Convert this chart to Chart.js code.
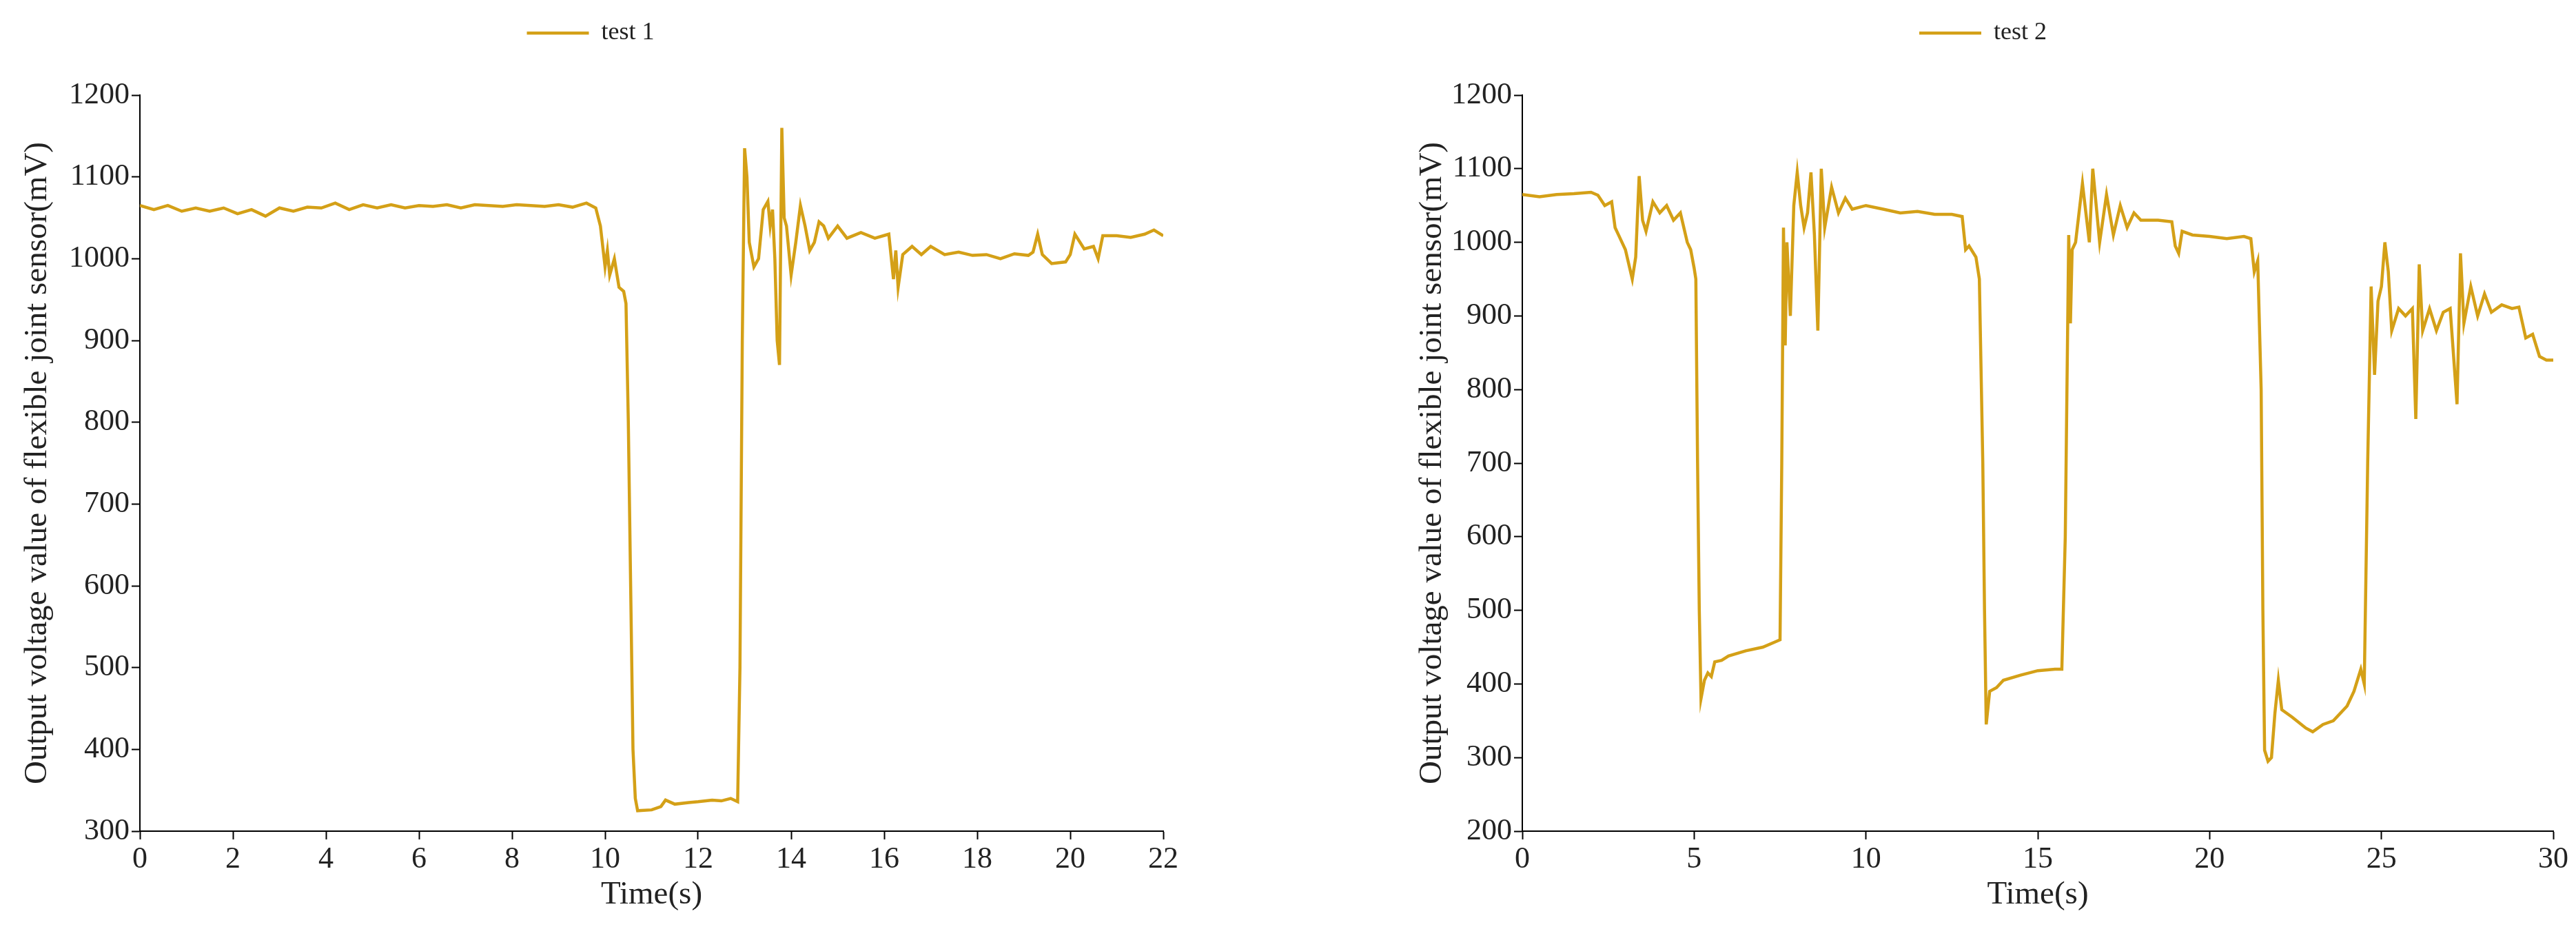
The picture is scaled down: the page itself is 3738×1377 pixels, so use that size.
<!DOCTYPE html>
<html>
<head>
<meta charset="utf-8">
<script src="https://cdn.jsdelivr.net/npm/chart.js@4.4.1/dist/chart.umd.min.js"></script>
<style>
  body { margin: 0; background: #fff; }
  .wrap { position: absolute; top: 0; height: 1377px; }
  #w1 { left: 0; width: 1850px; }
  #w2 { left: 1850px; width: 1888px; }
</style>
</head>
<body>
<div class="wrap" id="w1"><canvas id="c1"></canvas></div>
<div class="wrap" id="w2"><canvas id="c2"></canvas></div>
<script>
// test 1
const t1 = [0,0.3,0.6,0.9,1.2,1.5,1.8,2.1,2.4,2.7,3.0,3.3,3.6,3.9,4.2,4.5,4.8,5.1,5.4,5.7,6.0,6.3,6.6,6.9,7.2,7.5,7.8,8.1,8.4,8.7,9.0,9.3,9.6,9.8,9.9,10.0,10.05,10.1,10.2,10.3,10.4,10.45,10.5,10.55,10.6,10.65,10.7,11.0,11.2,11.3,11.5,11.8,12.0,12.3,12.5,12.7,12.85,12.9,12.95,13.0,13.05,13.1,13.2,13.3,13.4,13.5,13.55,13.6,13.65,13.7,13.75,13.8,13.85,13.9,14.0,14.1,14.2,14.3,14.4,14.5,14.6,14.7,14.8,15.0,15.2,15.5,15.8,16.1,16.2,16.25,16.3,16.4,16.6,16.8,17.0,17.3,17.6,17.9,18.2,18.5,18.8,19.1,19.2,19.3,19.4,19.6,19.9,20.0,20.1,20.3,20.5,20.6,20.7,21.0,21.3,21.6,21.8,22.0];
const v1 = [1065,1060,1065,1058,1062,1058,1062,1055,1060,1052,1062,1058,1063,1062,1068,1060,1066,1062,1066,1062,1065,1064,1066,1062,1066,1065,1064,1066,1065,1064,1066,1063,1068,1062,1040,990,1010,980,1000,965,960,945,800,600,400,340,325,326,330,338,333,335,336,338,337,340,336,500,900,1135,1100,1020,990,1000,1060,1070,1040,1060,1000,900,870,1160,1050,1040,980,1020,1065,1040,1010,1020,1045,1040,1025,1040,1025,1032,1025,1030,975,1010,965,1005,1015,1005,1015,1005,1008,1004,1005,1000,1006,1004,1008,1030,1005,994,996,1005,1030,1012,1015,1000,1028,1028,1026,1030,1035,1028];
// test 2
const t2 = [0,0.5,1,1.5,2,2.2,2.4,2.6,2.7,2.8,3.0,3.2,3.3,3.4,3.5,3.6,3.8,4.0,4.2,4.4,4.6,4.8,4.9,5.0,5.05,5.1,5.15,5.2,5.3,5.4,5.5,5.6,5.8,6.0,6.5,7.0,7.4,7.5,7.55,7.6,7.65,7.7,7.8,7.9,8.0,8.1,8.2,8.3,8.4,8.5,8.6,8.7,8.8,9.0,9.2,9.4,9.6,10,10.5,11,11.5,12,12.5,12.8,12.9,13.0,13.2,13.3,13.4,13.45,13.5,13.6,13.8,14,14.5,15,15.5,15.7,15.8,15.9,15.95,16.0,16.1,16.3,16.4,16.5,16.6,16.7,16.8,17.0,17.2,17.4,17.6,17.8,18,18.5,18.9,19.0,19.1,19.2,19.5,20,20.5,21,21.2,21.3,21.4,21.5,21.55,21.6,21.7,21.8,21.9,22.0,22.1,22.4,22.8,23,23.3,23.6,24.0,24.2,24.4,24.5,24.6,24.7,24.8,24.9,25.0,25.1,25.2,25.3,25.5,25.7,25.9,26.0,26.1,26.2,26.4,26.6,26.8,27.0,27.2,27.3,27.4,27.6,27.8,28.0,28.2,28.5,28.8,29.0,29.2,29.4,29.6,29.8,30];
const v2 = [1065,1062,1065,1066,1068,1064,1050,1055,1020,1010,990,950,980,1090,1030,1015,1055,1040,1050,1030,1040,1000,990,965,950,700,500,380,405,415,410,430,432,438,445,450,458,460,700,1020,860,1000,900,1050,1095,1050,1020,1040,1095,1010,880,1100,1020,1075,1040,1060,1045,1050,1045,1040,1042,1038,1038,1035,990,995,980,950,700,500,345,390,395,405,412,418,420,420,600,1010,890,990,1000,1080,1040,1000,1100,1050,1000,1065,1010,1050,1020,1040,1030,1030,1028,995,985,1015,1010,1008,1005,1008,1005,960,975,800,500,310,295,300,360,405,365,355,340,335,345,350,370,390,420,400,700,940,820,920,940,1000,960,880,910,900,910,760,970,880,910,880,905,910,780,985,890,940,900,930,905,915,910,912,870,875,845,840,840];

const gold = '#D4A017';
const serif = '"Liberation Serif", "DejaVu Serif", serif';

// extra room under the legend
const legendGap = {
  id: 'legendGap',
  beforeInit(chart) {
    const fit = chart.legend.fit;
    chart.legend.fit = function () { fit.call(this); this.height += 62; };
  }
};

function makeChart(id, label, xs, ys, xMin, xMax, xStep, yMin, padLeft, yAxisW, padRight) {
  const pts = xs.map((x, i) => ({ x: x, y: ys[i] }));
  return new Chart(document.getElementById(id), {
    type: 'line',
    data: {
      datasets: [{
        label: label,
        data: pts,
        borderColor: gold,
        backgroundColor: gold,
        borderWidth: 4.5,
        pointRadius: 0,
        tension: 0
      }]
    },
    plugins: [legendGap],
    options: {
      responsive: true,
      maintainAspectRatio: false,
      animation: false,
      layout: { padding: { top: 10, right: padRight, left: padLeft, bottom: 50 } },
      plugins: {
        tooltip: { enabled: false },
        legend: {
          labels: {
            usePointStyle: true,
            pointStyle: 'line',
            pointStyleWidth: 90,
            color: '#222',
            font: { family: serif, size: 36 },
            padding: 20
          }
        }
      },
      scales: {
        x: {
          type: 'linear',
          min: xMin, max: xMax,
          grid: { drawOnChartArea: false, color: '#000', tickLength: 12, tickWidth: 2 },
          border: { color: '#000', width: 2 },
          ticks: { stepSize: xStep, color: '#222', font: { family: serif, size: 44 }, maxRotation: 0 },
          title: { display: true, text: 'Time(s)', color: '#222', font: { family: serif, size: 47 }, padding: 0 },
          afterFit: s => { s.height = 121; }
        },
        y: {
          min: yMin, max: 1200,
          grid: { drawOnChartArea: false, color: '#000', tickLength: 12, tickWidth: 2 },
          border: { color: '#000', width: 2 },
          ticks: { stepSize: 100, color: '#222', font: { family: serif, size: 44 }, callback: v => String(v) },
          title: { display: true, text: 'Output voltage value of flexible joint sensor(mV)', color: '#222', font: { family: serif, size: 47 }, padding: 0 },
          afterFit: s => { s.width = yAxisW; }
        }
      }
    }
  });
}

makeChart('c1', 'test 1', t1, v1, 0, 22, 2, 300, 26, 177, 162);
makeChart('c2', 'test 2', t2, v2, 0, 30, 5, 200, 200, 159, 33);
</script>
</body>
</html>
